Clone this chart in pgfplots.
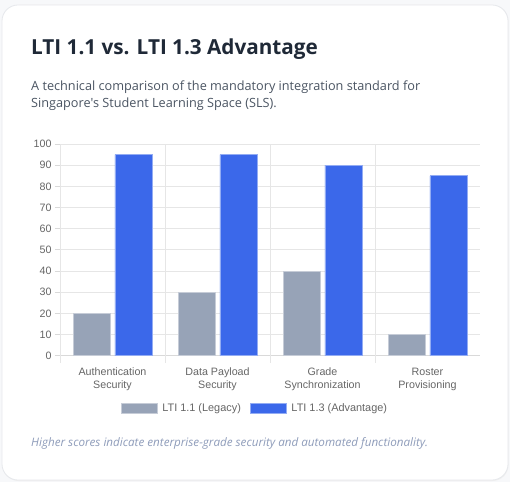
\documentclass[border=0pt]{standalone}
\usepackage{fontspec}
\usepackage{pgfplots}
\pgfplotsset{compat=1.18}
\setmainfont{Liberation Sans}
\newfontfamily\headfont{Open Sans}

\definecolor{pagebg}{HTML}{F7F8FA}
\definecolor{cardline}{HTML}{E6E8EC}
\definecolor{titlec}{HTML}{1F2937}
\definecolor{subc}{HTML}{4B5563}
\definecolor{notec}{HTML}{8E9CBA}
\definecolor{tickc}{HTML}{666666}
\definecolor{gridc}{HTML}{E6E6E6}
\definecolor{axisc}{HTML}{D9D9D9}
\definecolor{legacy}{HTML}{97A3B7}
\definecolor{advant}{HTML}{3B68EA}

\begin{document}
\begin{tikzpicture}[x=1pt,y=1pt]
% page and card
\fill[pagebg] (0,0) rectangle (510,482);
\fill[black!6,rounded corners=16pt] (2.5,1) rectangle (508.5,477);
\filldraw[fill=white,draw=cardline,line width=0.8pt,rounded corners=16pt] (2,2) rectangle (508,477);

% heading
\node[anchor=base west,inner sep=0pt,text=titlec,font=\headfont\bfseries\fontsize{20.7}{24}\selectfont] at (31,427) {LTI 1.1 vs. LTI 1.3 Advantage};
\node[anchor=base west,inner sep=0pt,text=subc,font=\headfont\fontsize{12.7}{16}\selectfont] at (31,391.3) {A technical comparison of the mandatory integration standard for};
\node[anchor=base west,inner sep=0pt,text=subc,font=\headfont\fontsize{12.7}{16}\selectfont] at (31,374.7) {Singapore's Student Learning Space (SLS).};

\begin{axis}[
  at={(60pt,126.3pt)}, anchor=south west,
  scale only axis, width=420pt, height=211.7pt,
  ybar=4.7pt, bar width=37pt,
  xmin=-0.5, xmax=3.5, ymin=0, ymax=100,
  ytick={0,10,...,100},
  xtick={0,1,2,3},
  xticklabels={{Authentication\\Security},{Data Payload\\Security},{Grade\\Synchronization},{Roster\\Provisioning}},
  axis lines*=left,
  axis line style={draw=axisc,line width=0.8pt},
  ymajorgrids, major grid style={draw=gridc,line width=0.8pt},
  tick align=outside,
  major tick length=5pt,
  x tick style={draw=none},
  y tick style={draw=axisc,line width=0.8pt},
  extra x ticks={-0.5,0.5,1.5,2.5},
  extra x tick labels={},
  extra x tick style={grid=major, major tick length=7pt, x tick style={draw=gridc,line width=0.8pt}},
  /pgf/number format/assume math mode=true,
  tick label style={font=\fontsize{10.7}{13}\selectfont, text=tickc},
  xticklabel style={align=center, yshift=-4pt},
  legend style={at={(0.464,-0.2485)}, anchor=center, draw=none, fill=none,
    font=\fontsize{10.9}{13}\selectfont, text=tickc, legend columns=2,
    /tikz/every even column/.append style={column sep=7pt}},
  legend image code/.code={\fill[#1] (0pt,-5pt) rectangle (36pt,5pt); \path (39pt,0pt);},
  clip=false,
]
\addplot[fill=legacy, draw=legacy!55!white, line width=0.6pt] coordinates {(0,20) (1,30) (2,40) (3,10)};
\addplot[fill=advant, draw=advant!55!white, line width=0.6pt] coordinates {(0,95) (1,95) (2,90) (3,85)};
\legend{LTI 1.1 (Legacy), LTI 1.3 (Advantage)}
\end{axis}

% footnote
\node[anchor=base west,inner sep=0pt,text=notec,font=\headfont\itshape\fontsize{11.65}{14}\selectfont] at (31,35.3) {Higher scores indicate enterprise-grade security and automated functionality.};
\end{tikzpicture}
\end{document}
